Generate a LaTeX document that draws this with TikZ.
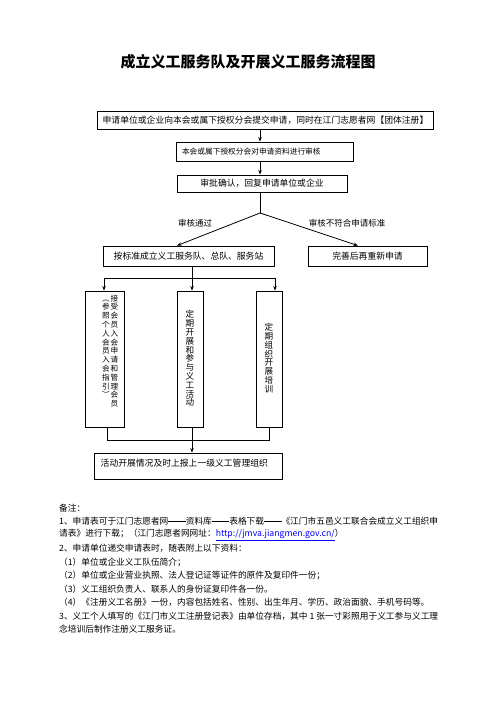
\documentclass[tikz,border=0pt]{standalone}
\usepackage{fontspec}
\setmainfont{Noto Sans CJK SC}
\usetikzlibrary{arrows.meta}

% one column of upright characters, top to bottom
\newdimen\colwd
\colwd=9bp
\newcommand\vertstack[1]{\vtop{\offinterlineskip\vertstep#1\relax}}
\def\vertstep#1{\ifx#1\relax\else\hbox to\colwd{\vrule height 7.8bp depth 1bp width 0pt\hss\smash{#1}\hss}\expandafter\vertstep\fi}
\newcommand\fsz[1]{\fontsize{#1}{#1}\selectfont}
% two-em dash as set in Chinese text
\newcommand\zhdash{\rule[0.33em]{2em}{0.06em}}

\tikzset{
  box/.style={draw, line width=0.8bp, inner sep=0pt, font=\fsz{8.8bp}},
  lab/.style={inner sep=0pt, font=\fsz{8.5bp}},
  note/.style={anchor=west, inner sep=0pt, font=\fsz{8.7bp}},
  flow/.style={line width=0.8bp, -{Stealth[length=4.5bp,width=3.5bp]}},
  link/.style={line width=0.8bp}
}

\begin{document}
\begin{tikzpicture}[x=1bp, y=-1bp]
\useasboundingbox (0,0) rectangle (496,702);

\node[font=\fsz{15bp}\bfseries] (title) at (248,62) {成立义工服务队及开展义工服务流程图};

\node[box, minimum width=336bp, minimum height=18bp] (apply) at (265.5,120) {申请单位或企业向本会或属下授权分会提交申请，同时在江门志愿者网【团体注册】};
\node[box, minimum width=177bp, minimum height=19bp, text width=165bp, align=left, font=\fsz{7.7bp}] (review) at (264.5,151.5) {本会或属下授权分会对申请资料进行审核};
\node[box, minimum width=170bp, minimum height=17bp] (reply) at (262,183.5) {审批确认，回复申请单位或企业};

\node[box, minimum width=171bp, minimum height=20bp] (found) at (188.5,256) {按标准成立义工服务队、总队、服务站};
\node[box, minimum width=119bp, minimum height=20bp] (redo) at (367.5,256) {完善后再重新申请};

\node[box, minimum width=39bp, minimum height=136bp] (members) at (104.5,359) {};
\node[box, minimum width=26bp, minimum height=136bp] (events) at (190,359) {};
\node[box, minimum width=26bp, minimum height=136bp] (training) at (269,359) {};

\node[box, minimum width=188bp, minimum height=26bp, text width=174.6bp, text depth=7bp, align=left] (report) at (188,466) {活动开展情况及时上报上一级义工管理组织};

% vertical texts
\node[anchor=north, inner sep=0pt, font=\fsz{7.6bp}] (memberstxt) at (110.25,293) {\colwd=8.5bp\vertstack{︵参照个人会员入会指引︶}\vertstack{接受会员入会申请和管理会员}};
\node[inner sep=0pt, font=\fsz{8.6bp}] (eventstxt) at (190,358.5) {\vertstack{定期开展和参与义工活动}};
\node[inner sep=0pt, font=\fsz{8.6bp}] (trainingtxt) at (269,358) {\vertstack{定期组织开展培训}};

\node[lab] (passlab) at (195,223) {审核通过};
\node[lab] (faillab) at (347,223) {审核不符合申请标准};

\coordinate (split) at (260,213);
\coordinate (fork) at (192,278);
\coordinate (merge) at (192,440);

\draw[flow] (split |- apply.south) -- (split |- review.north);
\draw[flow] (split |- review.south) -- (split |- reply.north);
\draw[link] (split |- reply.south) -- (split);
\draw[flow] (split) -- ([xshift=-11.5bp]found.north);
\draw[flow] (split) -- ([xshift=-9.5bp]redo.north);

\draw[link] (fork |- found.south) -- (fork);
\draw[flow] (fork) -| ([xshift=-0.5bp]members.north);
\draw[flow] (fork) -- (fork |- events.north);
\draw[flow] (fork) -| ([xshift=6bp]training.north);

\draw[link] ([xshift=2.5bp]members.south) |- (merge);
\draw[link] (training.south) |- (merge);
\draw[link] (merge |- events.south) -- (merge);
\draw[flow] (merge) -- (merge |- report.north);

% notes
\node[note] (n0) at (59,508) {备注：};
\node[note] (n1) at (59,521.5) {1、申请表可于江门志愿者网\zhdash 资料库\zhdash 表格下载\zhdash 《江门市五邑义工联合会成立义工组织申};
\node[note] (n2) at (59,535) {请表》进行下载；（江门志愿者网网址：\textcolor{blue}{\underline{http://jmva.jiangmen.gov.cn/}}）};
\node[note] (n3) at (59,548.5) {2、申请单位递交申请表时，随表附上以下资料：};
\node[note] (n4) at (59,562) {（1）单位或企业义工队伍简介；};
\node[note] (n5) at (59,575.5) {（2）单位或企业营业执照、法人登记证等证件的原件及复印件一份；};
\node[note] (n6) at (59,589) {（3）义工组织负责人、联系人的身份证复印件各一份。};
\node[note] (n7) at (59,602.5) {（4）《注册义工名册》一份，内容包括姓名、性别、出生年月、学历、政治面貌、手机号码等。};
\node[note] (n8) at (59,616) {3、义工个人填写的《江门市义工注册登记表》由单位存档，其中 1 张一寸彩照用于义工参与义工理};
\node[note] (n9) at (59,629.5) {念培训后制作注册义工服务证。};

\end{tikzpicture}
\end{document}
